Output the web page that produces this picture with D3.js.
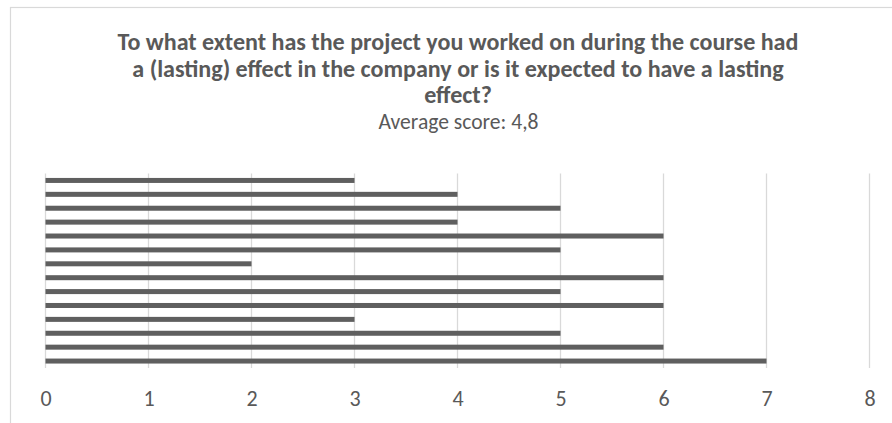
<!DOCTYPE html>
<html>
<head>
<meta charset="utf-8">
<script src="https://cdn.jsdelivr.net/npm/d3@7"></script>
<style>
    html, body { margin: 0; padding: 0; background: #fff; }
    svg { display: block; }
    text { font-family: Carlito, Calibri, Lato, sans-serif; fill: #595959; }
</style>
</head>
<body>
<svg id="chart" width="892" height="423"></svg>
<script>
    'use strict';

    var titleLines = [
        'To what extent has the project you worked on during the course had',
        'a (lasting) effect in the company or is it expected to have a lasting',
        'effect?'
    ];
    var subtitle = 'Average score: 4,8';

    // one bar per respondent, top to bottom
    var respondents = d3.range(1, 15).map(String);
    var scores = [3, 4, 5, 4, 6, 5, 2, 6, 5, 6, 3, 5, 6, 7];
    var tickValues = [0, 1, 2, 3, 4, 5, 6, 7, 8];

    var svg = d3.select('#chart');

    // chart frame, only top and left edges fall inside the picture
    svg.append('rect')
        .attr('x', 10.5)
        .attr('y', 7.5)
        .attr('width', 920)
        .attr('height', 440)
        .attr('fill', '#fff')
        .attr('stroke', '#d9d9d9')
        .attr('stroke-width', 1.2);

    var x = d3.scaleLinear()
        .domain([0, 8])
        .range([45.5, 869.5]);

    var y = d3.scaleBand()
        .domain(respondents)
        .range([173.5, 368])
        .paddingInner(0.64)
        .paddingOuter(0.32);

    // title, sized so the first line spans the same width as the original
    var title = svg.append('g')
        .attr('class', 'title')
        .attr('font-weight', 'bold')
        .attr('text-anchor', 'middle');

    var baselines = [50, 76.5, 103];
    var $lines = title.selectAll('text')
        .data(titleLines)
        .enter()
        .append('text')
        .attr('x', 458)
        .attr('y', (d, i) => baselines[i])
        .style('font-size', '20px')
        .text(d => d);

    var firstWidth = $lines.node().getComputedTextLength();
    var titleSize = 20 * 681 / firstWidth;
    $lines.style('font-size', titleSize.toFixed(2) + 'px');

    var $sub = svg.append('text')
        .attr('x', 458.5)
        .attr('y', 129)
        .attr('text-anchor', 'middle')
        .style('font-size', '18px')
        .text(subtitle);
    var subSize = 18 * 160 / $sub.node().getComputedTextLength();
    $sub.style('font-size', subSize.toFixed(2) + 'px');

    // vertical gridlines
    svg.append('g')
        .attr('class', 'grid')
        .selectAll('line')
        .data(tickValues)
        .enter()
        .append('line')
        .attr('x1', d => x(d))
        .attr('x2', d => x(d))
        .attr('y1', 173.5)
        .attr('y2', 368)
        .attr('stroke', '#d9d9d9')
        .attr('stroke-width', 1.3);

    // bars
    svg.append('g')
        .attr('class', 'bars')
        .selectAll('rect')
        .data(scores)
        .enter()
        .append('rect')
        .attr('x', x(0))
        .attr('y', (d, i) => y(respondents[i]))
        .attr('width', d => x(d) - x(0))
        .attr('height', y.bandwidth())
        .attr('fill', '#5f5f5f');

    // value axis labels
    var axis = d3.axisBottom(x)
        .tickValues(tickValues)
        .tickSize(0)
        .tickPadding(0)
        .tickFormat(d3.format('d'));

    var $axis = svg.append('g')
        .attr('transform', 'translate(0, 406)')
        .call(axis);
    $axis.select('.domain').remove();
    $axis.selectAll('text')
        .attr('dy', 0)
        .style('font-size', '22px')
        .style('font-family', 'Carlito, Calibri, Lato, sans-serif')
        .style('fill', '#595959');
</script>
</body>
</html>
